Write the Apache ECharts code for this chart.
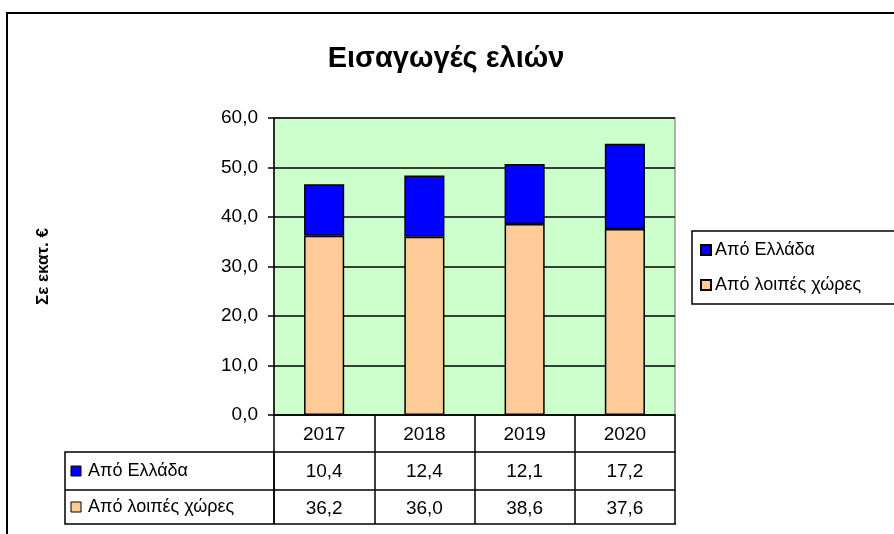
<!DOCTYPE html>
<html lang="el">
<head>
    <meta charset="UTF-8">
    <title>Εισαγωγές ελιών</title>
    <script src="https://cdn.jsdelivr.net/npm/echarts@6/dist/echarts.min.js"></script>
    <style>
        html, body { margin: 0; padding: 0; background: #fff; }
        #main { width: 894px; height: 534px; }
    </style>
</head>
<body>
<div id="main"></div>
<script>
    // δεδομένα
    const years = ['2017', '2018', '2019', '2020'];
    const fromGreece = [10.4, 12.4, 12.1, 17.2];
    const fromOthers = [36.2, 36.0, 38.6, 37.6];
    const seriesNames = ['Από Ελλάδα', 'Από λοιπές χώρες'];
    const seriesColors = ['#0000FF', '#FFCC99'];

    const FONT = '"Liberation Sans", Arial, sans-serif';
    const fmt = v => Number(v).toFixed(1).replace('.', ',');

    let myChart = echarts.init(document.getElementById('main'));

    // πλαίσιο + αριστερό μέρος του πίνακα δεδομένων
    let graphics = [
        {
            type: 'rect', z: 0,
            shape: {x: 7, y: 13, width: 950, height: 600},
            style: {fill: 'none', stroke: '#000', lineWidth: 2}
        },
        {
            type: 'rect', z: 10,
            shape: {x: 65, y: 452, width: 209, height: 72},
            style: {fill: 'none', stroke: '#000', lineWidth: 1.5}
        },
        {
            type: 'line', z: 10,
            shape: {x1: 65, y1: 490, x2: 274, y2: 490},
            style: {stroke: '#000', lineWidth: 1.5}
        },
        {
            type: 'line', z: 10,
            shape: {x1: 274, y1: 524, x2: 676, y2: 524},
            style: {stroke: '#000', lineWidth: 1.5}
        }
    ];
    seriesNames.forEach(function (name, i) {
        let cy = 471 + i * 36;
        graphics.push({
            type: 'rect', z: 10,
            shape: {x: 71, y: cy - 5, width: 10, height: 10},
            style: {fill: seriesColors[i], stroke: '#000', lineWidth: 1}
        });
        graphics.push({
            type: 'text', z: 10,
            x: 88, y: cy,
            style: {text: name, font: '18px ' + FONT, fill: '#000', verticalAlign: 'middle'}
        });
    });

    const tickStyle = {color: '#000', width: 1.5};
    const labelStyle = {fontFamily: FONT, fontSize: 19, color: '#000'};

    let option = {
        animation: false,
        title: {
            text: 'Εισαγωγές ελιών',
            left: 441,
            textAlign: 'center',
            top: 39,
            textStyle: {fontFamily: FONT, fontSize: 29, fontWeight: 'bold', color: '#000'}
        },
        legend: {
            orient: 'vertical',
            left: 692,
            top: 231,
            data: [seriesNames[0], seriesNames[1]],
            icon: 'rect',
            itemWidth: 10,
            itemHeight: 10,
            itemGap: 17,
            padding: [10, 40, 10, 8],
            borderColor: '#000',
            borderWidth: 1.5,
            textStyle: {fontFamily: FONT, fontSize: 18, color: '#000', padding: [0, 0, 0, -1]}
        },
        grid: {
            left: 274, right: 219, top: 118, bottom: 119,
            show: true,
            backgroundColor: '#CCFFCC',
            borderColor: '#999',
            borderWidth: 1.5
        },
        xAxis: [
            {
                type: 'category', data: years, position: 'bottom',
                axisLine: {lineStyle: tickStyle},
                axisTick: {show: true, alignWithLabel: false, length: 37, lineStyle: tickStyle},
                axisLabel: Object.assign({margin: 10}, labelStyle)
            },
            {
                type: 'category', data: fromGreece.map(fmt), position: 'bottom', offset: 37,
                axisLine: {show: true, lineStyle: tickStyle},
                axisTick: {show: true, alignWithLabel: false, length: 38, lineStyle: tickStyle},
                axisLabel: Object.assign({margin: 10}, labelStyle)
            },
            {
                type: 'category', data: fromOthers.map(fmt), position: 'bottom', offset: 75,
                axisLine: {show: true, lineStyle: tickStyle},
                axisTick: {show: true, alignWithLabel: false, length: 34, lineStyle: tickStyle},
                axisLabel: Object.assign({margin: 9}, labelStyle)
            }
        ],
        yAxis: {
            type: 'value', min: 0, max: 60, interval: 10,
            name: 'Σε εκατ. €',
            nameLocation: 'middle',
            nameGap: 222,
            nameTextStyle: {fontFamily: FONT, fontSize: 17, fontWeight: 'bold', color: '#000'},
            axisLine: {show: true, lineStyle: tickStyle},
            axisTick: {show: true, length: 6, lineStyle: tickStyle},
            axisLabel: Object.assign({margin: 16, formatter: fmt}, labelStyle),
            splitLine: {lineStyle: tickStyle}
        },
        series: [
            {
                name: seriesNames[1], type: 'bar', stack: 'total', xAxisIndex: 0,
                barWidth: '40%',
                itemStyle: {color: seriesColors[1], borderColor: '#000', borderWidth: 1.5},
                data: fromOthers
            },
            {
                name: seriesNames[0], type: 'bar', stack: 'total', xAxisIndex: 0,
                barWidth: '40%',
                itemStyle: {color: seriesColors[0], borderColor: '#000', borderWidth: 1.5},
                data: fromGreece
            }
        ],
        graphic: graphics
    };
    myChart.setOption(option);
</script>
</body>
</html>
